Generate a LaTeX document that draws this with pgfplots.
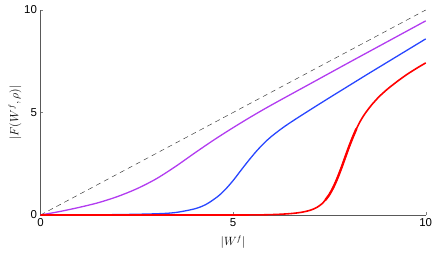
\documentclass[border=0pt]{standalone}
\usepackage{pgfplots}
\pgfplotsset{compat=1.18}
\usepackage{fontspec}
\setmainfont{Liberation Sans}
\definecolor{cpurple}{RGB}{178,60,240}
\definecolor{cblue}{RGB}{40,70,255}
\definecolor{cred}{RGB}{255,0,0}
\begin{document}
\begin{tikzpicture}
\useasboundingbox (-40.5bp,-38bp) rectangle (395.5bp,215bp);
\begin{axis}[at={(0,0)}, anchor=origin, scale only axis,
  width=385.2bp, height=205bp,
  xmin=0, xmax=10, ymin=0, ymax=10,
  axis x line=bottom, axis y line=left,
  axis line style={-, gray!70!black, line width=0.6pt},
  xtick={0,5,10}, ytick={0,5,10},
  tick align=inside, major tick length=3bp, tick style={gray},
  xlabel={$|W^f|$}, ylabel={$|F(W^f,\rho)|$},
  xlabel style={yshift=-2bp},
  ylabel style={yshift=-4bp},
  /pgf/number format/assume math mode=true,
  tick label style={font=\fontsize{11.5}{12}\selectfont},
  label style={font=\fontsize{12}{13}\selectfont},
  clip=false]
\addplot[black!75, dash pattern=on 5bp off 4bp, line width=0.5pt] coordinates {(0,0) (10,10)};
\addplot[cpurple, line width=1.3pt, smooth] coordinates {
 (0,0) (0.5,0.17) (1,0.37) (1.5,0.6) (2,0.9) (2.5,1.28) (3,1.76) (3.5,2.36)
 (4,3.02) (4.5,3.66) (5,4.26) (5.5,4.83) (6,5.37) (7,6.4) (8,7.43) (9,8.45) (10,9.47)};
\addplot[cblue, line width=1.3pt, smooth] coordinates {
 (0,0) (1,0.01) (2,0.02) (3,0.06) (3.5,0.12) (4,0.3) (4.3,0.52) (4.6,0.9)
 (4.8,1.25) (5,1.68) (5.2,2.17) (5.4,2.65) (5.6,3.1) (5.8,3.5) (6,3.84)
 (6.3,4.27) (6.6,4.65) (7,5.13) (7.5,5.72) (8,6.3) (8.5,6.88) (9,7.45) (9.5,8.02) (10,8.59)};
\addplot[cred, line width=1.6pt, smooth] coordinates {
 (0,0) (5,0.0) (6,0.02) (6.5,0.07) (6.8,0.14) (7,0.23) (7.1,0.3) (7.2,0.4)
 (7.3,0.54) (7.4,0.74) (7.5,1.0) (7.6,1.34) (7.7,1.76) (7.8,2.24) (7.9,2.76)
 (8.0,3.28) (8.1,3.76) (8.2,4.2) (8.3,4.57) (8.4,4.88) (8.5,5.14) (8.6,5.38)
 (8.7,5.59) (8.8,5.79) (9,6.13) (9.25,6.5) (9.5,6.84) (9.75,7.14) (10,7.42)};
\addplot[cred, line width=2.3pt, line cap=round, smooth] coordinates {
 (7.4,0.74) (7.5,1.0) (7.6,1.34) (7.7,1.76) (7.8,2.24) (7.9,2.76)
 (8.0,3.28) (8.1,3.76) (8.2,4.2)};
\end{axis}
\end{tikzpicture}
\end{document}
